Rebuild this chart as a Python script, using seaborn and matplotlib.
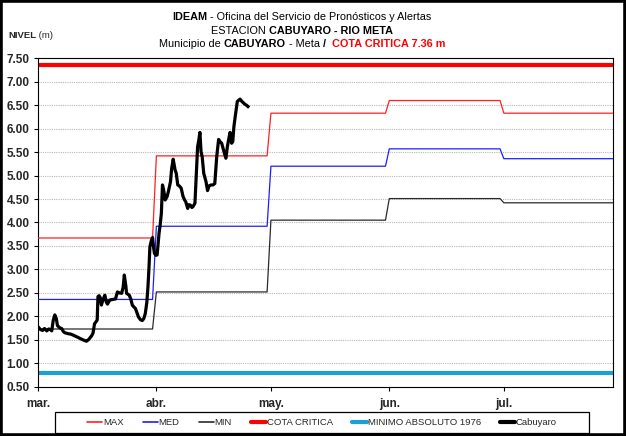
import matplotlib
matplotlib.use("Agg")
import matplotlib.pyplot as plt
from matplotlib.patches import Rectangle
from matplotlib.lines import Line2D
from matplotlib.ticker import FixedLocator, FixedFormatter, FormatStrFormatter
import matplotlib.dates as mdates
import numpy as np
import pandas as pd
import seaborn as sns

sns.set_style("white")
FONT = ['Liberation Sans Narrow', 'Liberation Sans', 'DejaVu Sans']
plt.rcParams['font.family'] = FONT

# ---------------- data ----------------
month_starts = ["2024-03-01", "2024-04-01", "2024-05-01", "2024-06-01", "2024-07-01"]
month_labels = ["mar.", "abr.", "may.", "jun.", "jul."]
axis_end = "2024-07-29 14:00"

max_vals = [3.67, 5.42, 6.33, 6.60, 6.33]
med_vals = [2.36, 3.92, 5.20, 5.57, 5.36]
min_vals = [1.73, 2.52, 4.05, 4.51, 4.42]
cota_critica = 7.36
minimo_absoluto = 0.79

# Cabuyaro gauge readings: days after 1 March, level (m)
cab_days = [0.0, 0.6, 1.2, 1.7, 2.3, 2.8, 3.2, 3.6, 4.0, 4.4, 4.8, 5.1, 5.8, 6.2, 6.6,
            7.0, 7.9, 8.6, 9.2, 10.0, 10.5, 11.2, 11.8, 12.3, 12.7, 13.2, 13.5, 14.0,
            14.4, 14.8, 15.3, 15.5, 15.7, 16.0, 16.3, 16.6, 17.0, 17.5, 17.9, 18.2,
            18.6, 18.9, 19.6, 20.3, 20.8, 21.3, 21.9, 22.3, 22.6, 23.0, 23.2, 23.9,
            24.3, 24.7, 25.1, 25.5, 25.9, 26.3, 26.8, 27.3, 27.7, 28.1, 28.5, 28.8,
            29.1, 29.3, 29.7, 30.0, 30.3, 30.5, 30.9, 31.2, 31.7, 32.0, 32.3, 32.6,
            32.9, 33.3, 33.8, 34.2, 34.7, 35.0, 35.4, 35.9, 36.2, 36.6, 37.0, 37.5,
            38.0, 38.4, 38.7, 39.2, 39.5, 39.9, 40.3, 40.6, 41.1, 41.3, 41.5, 41.8,
            42.1, 42.4, 42.7, 43.0, 43.4, 44.0, 44.4, 44.8, 45.3, 45.8, 46.3, 46.8,
            47.3, 47.7, 48.1, 48.7, 49.2, 49.6, 50.0, 50.3, 50.7, 51.0, 51.3, 51.7,
            52.2, 52.9, 53.4, 53.8, 54.2, 54.6, 55.3]
cab_vals = [1.78, 1.72, 1.70, 1.74, 1.69, 1.73, 1.72, 1.69, 1.92, 2.03, 1.95, 1.80, 1.75, 1.74, 1.68,
            1.65, 1.63, 1.62, 1.60, 1.57, 1.55, 1.52, 1.50, 1.48, 1.47, 1.50, 1.53, 1.58,
            1.64, 1.84, 1.90, 1.92, 2.42, 2.44, 2.40, 2.24, 2.35, 2.45, 2.30, 2.26,
            2.32, 2.35, 2.36, 2.37, 2.52, 2.50, 2.49, 2.62, 2.88, 2.65, 2.49, 2.45,
            2.37, 2.24, 2.20, 2.17, 2.08, 1.99, 1.93, 1.91, 1.95, 2.06, 2.30, 2.63,
            3.10, 3.48, 3.62, 3.68, 3.45, 3.34, 3.30, 3.31, 3.77, 3.95, 4.19, 4.80,
            4.70, 4.48, 4.55, 4.68, 4.87, 5.15, 5.35, 5.12, 5.05, 4.80, 4.78, 4.73,
            4.55, 4.48, 4.44, 4.30, 4.38, 4.37, 4.32, 4.34, 4.41, 4.75, 5.05, 5.62,
            5.75, 5.92, 5.51, 5.40, 5.05, 4.87, 4.68, 4.78, 4.80, 4.80, 4.83, 5.40,
            5.77, 5.72, 5.69, 5.51, 5.37, 5.62, 5.80, 5.92, 5.69, 5.72, 6.04, 6.29,
            6.58, 6.63, 6.58, 6.55, 6.52, 6.50, 6.45]

y_ticks = [0.5, 1.0, 1.5, 2.0, 2.5, 3.0, 3.5, 4.0, 4.5, 5.0, 5.5, 6.0, 6.5, 7.0, 7.5]

# ---------------- frames ----------------
starts = pd.to_datetime(month_starts)
end = pd.Timestamp(axis_end)


def step_frame(vals):
    xs, ys = [], []
    for i, v in enumerate(vals):
        s = starts[i]
        e = starts[i + 1] - pd.Timedelta(days=1) if i + 1 < len(starts) else end
        xs += [s, e]
        ys += [v, v]
    return pd.DataFrame({"fecha": xs, "nivel": ys})


df_max = step_frame(max_vals)
df_med = step_frame(med_vals)
df_min = step_frame(min_vals)
df_cota = pd.DataFrame({"fecha": [starts[0], end], "nivel": [cota_critica, cota_critica]})
df_mabs = pd.DataFrame({"fecha": [starts[0], end], "nivel": [minimo_absoluto, minimo_absoluto]})
df_cab = pd.DataFrame({"fecha": starts[0] + pd.to_timedelta(cab_days, unit="D"),
                       "nivel": cab_vals})

# ---------------- figure ----------------
W, H = 626, 436
fig = plt.figure(figsize=(W / 100, H / 100), dpi=100)
ax = fig.add_axes([38 / W, 1 - 386.7 / H, (613 - 38) / W, (386.7 - 58.3) / H])

C_MAX = "#FF2020"
C_MED = "#1E1EFF"
C_MIN = "#2A2A2A"
C_COTA = "#FF0000"
C_MABS = "#1C9FD2"
C_CAB = "#000000"

series = [
    (df_cota, C_COTA, 3.0, "COTA CRITICA", 2),
    (df_mabs, C_MABS, 3.0, "MINIMO ABSOLUTO 1976", 2),
    (df_max, C_MAX, 0.9, "MAX", 3),
    (df_med, C_MED, 0.9, "MED", 3),
    (df_min, C_MIN, 0.9, "MIN", 3),
    (df_cab, C_CAB, 2.3, "Cabuyaro", 4),
]
for df, c, lw, lab, z in series:
    sns.lineplot(data=df, x="fecha", y="nivel", ax=ax, color=c, linewidth=lw,
                 estimator=None, sort=False, legend=False, zorder=z,
                 solid_joinstyle="round", solid_capstyle="butt")

ax.set_xlim(starts[0], end)
ax.set_ylim(0.5, 7.5)
ax.set_xlabel("")
ax.set_ylabel("")

ax.xaxis.set_major_locator(FixedLocator(mdates.date2num(starts)))
ax.xaxis.set_major_formatter(FixedFormatter(month_labels))
ax.yaxis.set_major_locator(FixedLocator(y_ticks))
ax.yaxis.set_major_formatter(FormatStrFormatter("%.2f"))

ax.grid(False)
for yv in y_ticks[1:-1]:
    ax.axhline(yv, color="#B8B8B8", lw=0.8, ls=(0, (1, 1)), zorder=1)

for sp in ax.spines.values():
    sp.set_visible(True)
    sp.set_color("black")
    sp.set_linewidth(0.8)

ax.tick_params(axis="both", direction="out", length=3, width=0.8, color="black",
               labelsize=8.5, pad=3, left=True, bottom=True)
for lbl in ax.get_xticklabels() + ax.get_yticklabels():
    lbl.set_fontweight("bold")
    lbl.set_family(FONT)
ax.tick_params(axis="x", pad=5)

# ---------------- titles ----------------
fig.canvas.draw()
renderer = fig.canvas.get_renderer()


def rich_line(y_px, parts, cx_px, size):
    texts, widths = [], []
    for s, w, c in parts:
        t = fig.text(0, 1 - y_px / H, s, fontsize=size, fontweight=w, color=c,
                     ha="left", va="center", family=FONT)
        widths.append(t.get_window_extent(renderer).width)
        texts.append(t)
    x = cx_px - sum(widths) / 2
    for t, w in zip(texts, widths):
        t.set_x(x / W)
        x += w


TS = 7.8
rich_line(17, [("IDEAM", "bold", "black"),
               (" - Oficina del Servicio de Pronósticos y Alertas", "normal", "black")], 302, TS)
rich_line(31, [("ESTACION ", "normal", "black"),
               ("CABUYARO - RIO META", "bold", "black")], 302, TS)
rich_line(44, [("Municipio de ", "normal", "black"),
               ("CABUYARO", "bold", "black"),
               (" - Meta ", "normal", "black"),
               ("/", "bold", "black"),
               ("  COTA CRITICA 7.36 m", "bold", "#FF0000")], 302, TS)

t1 = fig.text(8 / W, 1 - 36 / H, "NIVEL", fontsize=6.8, fontweight="bold",
              ha="left", va="center", family=FONT)
wN = t1.get_window_extent(renderer).width
fig.text((8 + wN) / W, 1 - 36 / H, " (m)", fontsize=6.8, ha="left", va="center", family=FONT)

# ---------------- legend ----------------
handles = [
    Line2D([], [], color=C_MAX, lw=1.2),
    Line2D([], [], color=C_MED, lw=1.2),
    Line2D([], [], color=C_MIN, lw=1.2),
    Line2D([], [], color=C_COTA, lw=3.0),
    Line2D([], [], color=C_MABS, lw=3.0),
    Line2D([], [], color=C_CAB, lw=3.0),
]
labels = ["MAX", "MED", "MIN", "COTA CRITICA", "MINIMO ABSOLUTO 1976", "Cabuyaro"]
leg = fig.legend(handles, labels, loc="center", bbox_to_anchor=(322 / W, 1 - 422.5 / H),
                 ncol=6, frameon=False, handlelength=1.6, handletextpad=0.1,
                 columnspacing=2.0, prop={"family": FONT, "size": 6.8})
fig.patches.append(Rectangle((55 / W, 1 - 433 / H), (589 - 55) / W, 21 / H,
                             transform=fig.transFigure, fill=False, edgecolor="black",
                             lw=0.9, zorder=5))

# outer frame
fig.patches.append(Rectangle((0.002, 0.003), 0.996, 0.994, transform=fig.transFigure,
                             fill=False, edgecolor="black", lw=2.6, zorder=10))

fig.savefig("out.png", dpi=100)
